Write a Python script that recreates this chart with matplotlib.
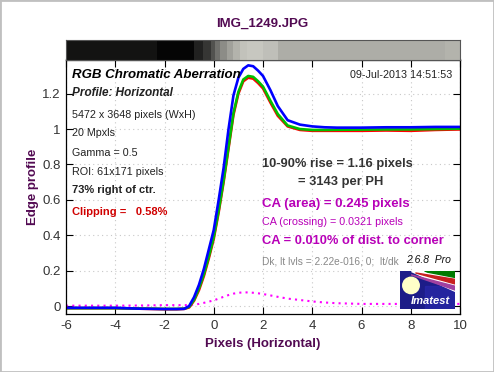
import numpy as np
import matplotlib
matplotlib.use("Agg")
import matplotlib.pyplot as plt
from matplotlib.patches import Rectangle, Polygon, Ellipse

plt.rcParams['font.family'] = ['Liberation Sans', 'DejaVu Sans']
plt.rcParams['axes.unicode_minus'] = False

# ---- data ----
x_pix = [-6, -5, -4, -3, -2, -1.5, -1.2, -1.0, -0.8, -0.6, -0.4, -0.2, 0.0, 0.2,
         0.4, 0.6, 0.8, 1.0, 1.2, 1.4, 1.6, 1.8, 2.0, 2.3, 2.6, 3.0, 3.5, 4.0,
         4.5, 5.0, 6.0, 7.0, 8.0, 9.0, 10.0]
red = [-0.012, -0.012, -0.012, -0.015, -0.018, -0.018, -0.016, -0.008, 0.03, 0.09,
       0.17, 0.27, 0.38, 0.53, 0.70, 0.89, 1.08, 1.20, 1.27, 1.29, 1.285, 1.26,
       1.23, 1.15, 1.075, 1.015, 0.995, 0.99, 0.99, 0.99, 0.99, 0.992, 0.99,
       0.995, 0.998]
green = [-0.012, -0.012, -0.012, -0.014, -0.016, -0.016, -0.015, -0.005, 0.035,
         0.10, 0.18, 0.28, 0.39, 0.54, 0.71, 0.90, 1.09, 1.21, 1.28, 1.30, 1.295,
         1.27, 1.24, 1.16, 1.085, 1.02, 1.0, 0.995, 0.995, 0.996, 0.997, 0.998,
         0.998, 1.0, 1.002]
blue = [-0.010, -0.010, -0.010, -0.015, -0.017, -0.017, -0.016, 0.0, 0.05, 0.12,
        0.21, 0.32, 0.43, 0.60, 0.78, 1.0, 1.19, 1.29, 1.34, 1.36, 1.355, 1.33,
        1.30, 1.22, 1.13, 1.05, 1.025, 1.015, 1.01, 1.008, 1.008, 1.01, 1.01,
        1.012, 1.012]
ca_diff = [0.002, 0.002, 0.002, 0.003, 0.005, 0.005, 0.005, 0.005, 0.008, 0.012,
           0.018, 0.025, 0.032, 0.042, 0.052, 0.062, 0.070, 0.075, 0.077, 0.077,
           0.075, 0.072, 0.068, 0.060, 0.052, 0.042, 0.034, 0.026, 0.02, 0.016,
           0.012, 0.012, 0.012, 0.012, 0.012]

# grey strip above the plot (edge image)
strip_edges = [-6, -2.3, -0.8, -0.45, -0.13, 0.07, 0.27, 0.55, 0.8, 1.05, 1.35,
               2.0, 2.6, 9.4, 10]
strip_gray = [0.075, 0.02, 0.13, 0.21, 0.32, 0.44, 0.55, 0.63, 0.70, 0.76, 0.78,
              0.75, 0.68, 0.70]

W, H = 494, 372
fig = plt.figure(figsize=(W / 100, H / 100), dpi=100)
fig.patch.set_facecolor("white")


def fx(px):
    return px / W


def fy(py):
    return 1 - py / H


purple = "#520a52"
magenta = "#b800b8"

# main axes
ax = fig.add_axes([fx(66), fy(314), fx(460) - fx(66), fy(59.5) - fy(314)])
ax.plot(x_pix, ca_diff, color="#ff00ff", lw=1.5, ls=(0, (1, 2)))
ax.plot(x_pix, red, color="#ff0000", lw=1.9)
ax.plot(x_pix, green, color="#00c000", lw=1.9)
ax.plot(x_pix, blue, color="#0000ff", lw=1.9)
ax.set_xlim(-6, 10)
ax.set_ylim(-0.045, 1.393)
ax.set_xticks(range(-6, 11, 2))
ax.set_yticks([0, 0.2, 0.4, 0.6, 0.8, 1, 1.2])
ax.set_yticklabels(["0", "0.2", "0.4", "0.6", "0.8", "1", "1.2"])
ax.grid(True, color="#c8c8c8", ls=(0, (1, 3)), lw=0.8)
ax.tick_params(direction="in", length=5, width=0.8, top=True, right=True,
               labelsize=9.5, labelcolor="#333333", pad=4)
for s in ax.spines.values():
    s.set_linewidth(0.9)
ax.set_xlabel("Pixels (Horizontal)", fontsize=9.5, fontweight="bold",
              color=purple, labelpad=5)
ax.set_ylabel("Edge profile", fontsize=9.5, fontweight="bold",
              color=purple, labelpad=2)

# grey strip
sax = fig.add_axes([fx(66), fy(59.5), fx(460) - fx(66), fy(40) - fy(59.5)])
for x0, x1, g in zip(strip_edges[:-1], strip_edges[1:], strip_gray):
    sax.axvspan(x0, x1, color=(g, g, g * 0.965), lw=0)
sax.set_xlim(-6, 10)
sax.set_ylim(0, 1)
sax.set_xticks([])
sax.set_yticks([])
for s in sax.spines.values():
    s.set_color("#555555")
    s.set_linewidth(0.8)

# title
fig.text(fx(262), fy(24), "IMG_1249.JPG", fontsize=9.5, fontweight="bold",
         color=purple, ha="center", va="center")

# left text block
fig.text(fx(72), fy(75), "RGB Chromatic Aberration", fontsize=9.5,
         fontweight="bold", style="italic", va="center")
fig.text(fx(72), fy(93), "Profile: Horizontal", fontsize=8.5,
         fontweight="bold", style="italic", color="#222222", va="center")
fig.text(fx(72), fy(115), "5472 x 3648 pixels (WxH)", fontsize=7.75,
         color="#222222", va="center")
fig.text(fx(72), fy(133), "20 Mpxls", fontsize=7.75, color="#222222", va="center")
fig.text(fx(72), fy(153), "Gamma = 0.5", fontsize=7.75, color="#222222", va="center")
fig.text(fx(72), fy(172), "ROI: 61x171 pixels", fontsize=7.75, color="#222222",
         va="center")
fig.text(fx(72), fy(190), "73% right of ctr.", fontsize=8, fontweight="bold",
         color="#222222", va="center")
fig.text(fx(72), fy(212), "Clipping =   0.58%", fontsize=8, fontweight="bold",
         color="#d00000", va="center")

fig.text(fx(452), fy(75), "09-Jul-2013 14:51:53", fontsize=7.75, color="#222222",
         ha="right", va="center")

# right text block
fig.text(fx(262), fy(164), "10-90% rise = 1.16 pixels", fontsize=9.3,
         fontweight="bold", color="#333333", va="center")
fig.text(fx(298), fy(182), "= 3143 per PH", fontsize=9.3, fontweight="bold",
         color="#333333", va="center")
fig.text(fx(262), fy(204), "CA (area) = 0.245 pixels", fontsize=9.5,
         fontweight="bold", color=magenta, va="center")
fig.text(fx(262), fy(222), "CA (crossing) = 0.0321 pixels", fontsize=7.75,
         color=magenta, va="center")
fig.text(fx(262), fy(241), "CA = 0.010% of dist. to corner", fontsize=9.3,
         fontweight="bold", color=magenta, va="center")
fig.text(fx(262), fy(261), "Dk, lt lvls = 2.22e-016, 0;  lt/dk", fontsize=7.25,
         color="#888888", va="center")
fig.text(fx(406), fy(260), "2.6.8  Pro", fontsize=7.5, style="italic",
         color="#111111", va="center")

# Imatest logo
lax = fig.add_axes([fx(400), fy(309), fx(455) - fx(400), fy(271) - fy(309)])
lax.set_xlim(0, 1)
lax.set_ylim(0, 1)
lax.axis("off")
lax.add_patch(Rectangle((0, 0), 1, 1, color="#1c1c88"))
lax.add_patch(Rectangle((0.45, 0), 0.55, 0.6, color="#2a2ab0", alpha=0.6))
lax.add_patch(Polygon([(0.2, 1), (1, 1), (1, 0.48)], color="white"))
lax.add_patch(Polygon([(0.45, 1), (1, 1), (1, 0.83), (0.5, 0.97)], color="#007a00"))
lax.add_patch(Polygon([(0.28, 0.95), (1, 0.78), (1, 0.66)], color="#c82020"))
lax.add_patch(Polygon([(0.2, 0.9), (1, 0.6), (1, 0.5)], color="#a040a0"))
lax.add_patch(Ellipse((0.2, 0.62), 0.3, 0.43, color="#ffffc8"))
lax.text(0.55, 0.2, "Imatest", fontsize=8, fontweight="bold", style="italic",
         color="white", ha="center", va="center")

# figure frame
fig.patches.append(Rectangle((0, 0), 1, 1, transform=fig.transFigure,
                             fill=False, edgecolor="#c0c0c0", lw=2))

fig.savefig("out.png", dpi=100)
